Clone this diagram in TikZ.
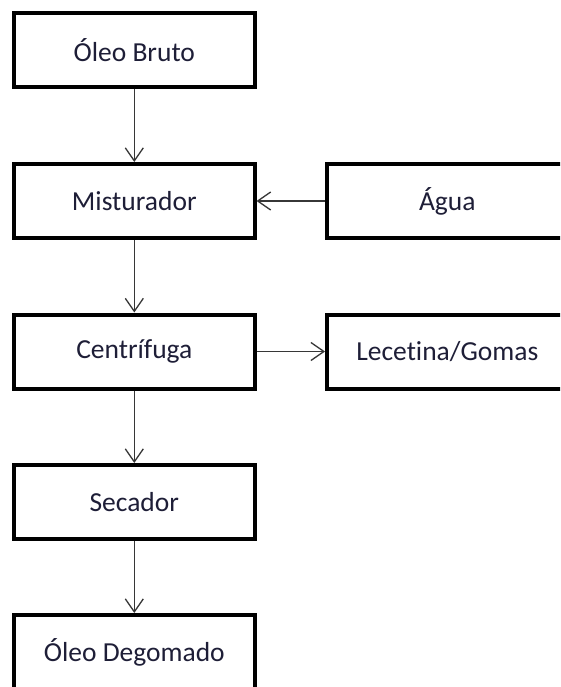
\documentclass[tikz,border=0pt]{standalone}
\usepackage{fontspec}
\setmainfont{Carlito}[Ligatures=NoCommon]
\usetikzlibrary{arrows.meta,positioning}
\definecolor{txtcol}{RGB}{30,30,55}
\definecolor{arrcol}{RGB}{55,55,55}

\begin{document}
\begin{tikzpicture}[x=1pt,y=-1pt,
  etapa/.style={draw,line width=4pt,minimum width=240.5pt,minimum height=74pt,
    inner sep=0pt,text=txtcol,font=\fontsize{27.5}{32}\selectfont},
  fluxo/.style={draw=arrcol,line width=1.3pt,-{Straight Barb[length=13pt,width=18pt,line width=1.3pt]}}]
\useasboundingbox (0,0) rectangle (560,687);
\clip (0,0) rectangle (560,687);
\fill[white] (0,0) rectangle (560,687);

% coluna principal
\node[etapa] (bruto) at (134.3,50) {Óleo Bruto};
\node[etapa] (mist) at (134.3,201) {Misturador};
\node[etapa] (centr) at (134.3,351.5) {Centrífuga};
\node[etapa] (sec) at (134.3,502) {Secador};
\node[etapa] (degom) at (134.3,652) {Óleo Degomado};

% entradas e saidas laterais
\node[etapa] (agua) at (447.3,201) {Água};
\node[etapa] (lecit) at (447.3,351.5) {Lecetina/Gomas};

\draw[fluxo] (bruto) -- (mist);
\draw[fluxo] (mist) -- (centr);
\draw[fluxo] (centr) -- (sec);
\draw[fluxo] (sec) -- (degom);
\draw[fluxo] (agua) -- (mist);
\draw[fluxo] (centr) -- (lecit);
\end{tikzpicture}
\end{document}
